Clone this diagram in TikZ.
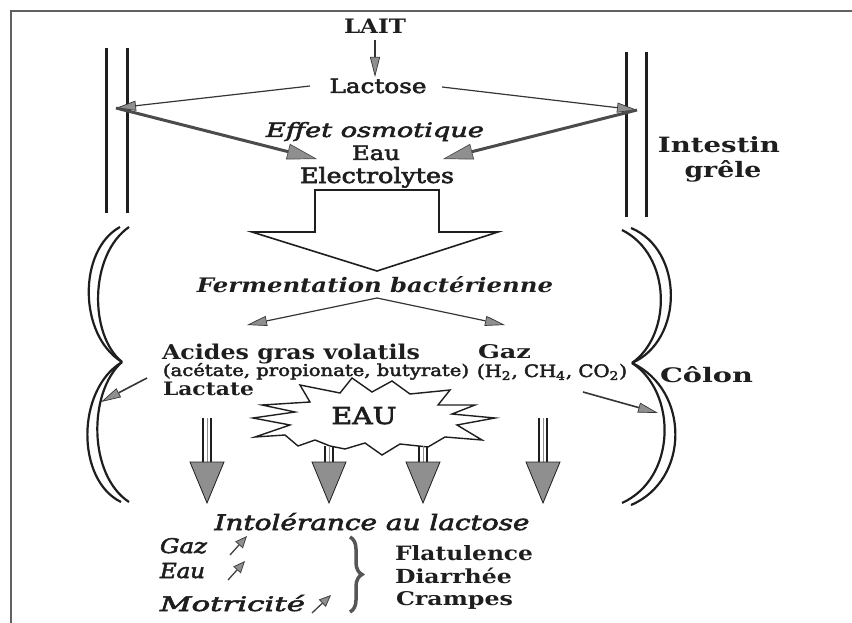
\documentclass[tikz,border=0pt]{standalone}
\usepackage{fontspec}
\setmainfont{DejaVu Serif}
\newfontfamily\medf{DejaVu Serif}[FakeBold=2.5]
\usepackage{graphicx}
\usetikzlibrary{arrows.meta,decorations.pathreplacing}
\definecolor{ink}{HTML}{1E1E1E}
\definecolor{tipg}{HTML}{8F8F8F}
\newcommand\fitt[3]{\resizebox{#1pt}{#2pt}{#3}}
\begin{document}
\begin{tikzpicture}[x=1pt,y=-1pt,
  txt/.style={inner sep=0pt,outer sep=0pt,text=ink},
  wall/.style={draw=ink,line width=3pt},
  colonline/.style={draw=ink,line width=2.2pt},
  thinarr/.style={draw=ink!90,line width=1.2pt,-{Triangle[length=20pt,width=10pt,fill=tipg,line width=0.7pt]}},
  thickarr/.style={draw=ink!80,line width=3pt,-{Triangle[length=30pt,width=16pt,fill=tipg,line width=0.7pt]}},
  smallarr/.style={draw=ink!85,line width=1.3pt,-{Triangle[length=12pt,width=10pt,fill=tipg,line width=0.8pt]}},
  blockarrow/.style={draw=ink,line width=1.6pt,fill=white},
  starline/.style={draw=ink,line width=1.4pt,fill=white},
  shaftl/.style={draw=ink,line width=1.4pt},
  headf/.style={draw=ink,line width=0.8pt,fill=tipg}]
\useasboundingbox (0,0) rectangle (852,623);
% frame
\draw[ink!70,line width=1.2pt] (11,623) -- (11,11) -- (852,11);

% small intestine walls
\draw[wall] (106,48) -- (106,213);
\draw[wall] (127,48) -- (127,213);
\draw[wall] (626,52) -- (626,217);
\draw[wall] (646,52) -- (646,217);

% colon walls (left)
\draw[colonline] (120,227) .. controls (78,250) and (78,335) .. (122,362);
\draw[colonline] (129,227) .. controls (89,255) and (89,335) .. (122,362);
\draw[colonline] (122,362) .. controls (76,390) and (76,480) .. (121,502);
\draw[colonline] (122,362) .. controls (88,392) and (88,475) .. (129,502);
% colon walls (right)
\draw[colonline] (631,228) .. controls (684,250) and (684,340) .. (632,363);
\draw[colonline] (622,230) .. controls (672,255) and (672,335) .. (632,363);
\draw[colonline] (632,363) .. controls (690,390) and (690,480) .. (631,505);
\draw[colonline] (632,363) .. controls (677,392) and (677,478) .. (622,503);

% texts
\node[txt,anchor=base] (lait) at (375,34) {\fitt{62}{14.5}{\bfseries LAIT}};
\node[txt,anchor=base] (lactose) at (378,93) {\fitt{97}{14.5}{\medf Lactose}};
\node[txt,anchor=base] (effet) at (375,137) {\fitt{218}{15}{\medf\itshape Effet osmotique}};
\node[txt,anchor=base] (eau) at (376,160) {\fitt{48}{14.5}{\medf Eau}};
\node[txt,anchor=base] (electro) at (377,183) {\fitt{154}{16}{\medf Electrolytes}};
\node[txt,anchor=base] (intestin) at (719,153) {\fitt{122}{16}{\bfseries Intestin}};
\node[txt,anchor=base] (grele) at (723,178) {\fitt{77}{17}{\bfseries grêle}};
\node[txt,anchor=base] (ferm) at (375,292) {\fitt{356}{16}{\bfseries\itshape Fermentation bactérienne}};
\node[txt,anchor=base west] (acides) at (162,359) {\fitt{258}{15.5}{\bfseries Acides gras volatils}};
\node[txt,anchor=base west] (gaz) at (478,358) {\fitt{53}{14}{\bfseries Gaz}};
\node[txt,anchor=base west] (acetate) at (163,376) {\fitt{306}{13}{\medf (acétate, propionate, butyrate)}};
\node[txt,anchor=base west] (gases) at (477,377) {\fitt{150}{13}{\medf (H\textsubscript{2}, CH\textsubscript{4}, CO\textsubscript{2})}};
\node[txt,anchor=base west] (lactate) at (163,395) {\fitt{91}{13.5}{\bfseries Lactate}};
\node[txt,anchor=base west] (colon) at (660,382) {\fitt{93}{16}{\bfseries Côlon}};

% EAU star
\draw[starline] (262,405) -- (310,402) -- (300,385) -- (340,393) -- (352,378) -- (372,392)
  -- (392,381) -- (410,394) -- (450,390) -- (438,405) -- (475,405) -- (452,414)
  -- (495,418) -- (457,425) -- (482,440) -- (445,437) -- (428,447) -- (400,444)
  -- (382,455) -- (365,443) -- (345,449) -- (330,446) -- (315,440) -- (298,446)
  -- (285,435) -- (255,437) -- (290,425) -- (253,418) -- (295,412) -- cycle;
\node[txt,anchor=base] (eaub) at (364,424) {\fitt{65}{17}{\medf EAU}};

\node[txt,anchor=base] (intol) at (372,530) {\fitt{315}{17}{\medf\itshape Intolérance au lactose}};
\node[txt,anchor=base west] (gazi) at (160,553) {\fitt{47}{15}{\medf\itshape Gaz}};
\node[txt,anchor=base west] (eaui) at (160,578) {\fitt{45}{15}{\medf\itshape Eau}};
\node[txt,anchor=base west] (motr) at (160,611) {\fitt{145}{16}{\medf\itshape Motricité}};
\node[txt,anchor=base west] (flat) at (395,560) {\fitt{138}{15}{\bfseries Flatulence}};
\node[txt,anchor=base west] (diar) at (395,583) {\fitt{117}{15.5}{\bfseries Diarrhée}};
\node[txt,anchor=base west] (cramp) at (396,605) {\fitt{117}{14}{\bfseries Crampes}};

% coordinates
\coordinate (laitb) at (375,40);
\coordinate (lacttop) at (375,77);
\coordinate (LP) at (116,108);
\coordinate (RP) at (637,110);
\coordinate (lacL) at (310,86);
\coordinate (lacR) at (442,87);
\coordinate (E1) at (317,159);
\coordinate (E2) at (443,159);
\coordinate (F0) at (377,298);
\coordinate (F1) at (247,325);
\coordinate (F2) at (505,325);
\coordinate (AL0) at (147,378);
\coordinate (AL1) at (101,402);
\coordinate (AR0) at (583,392);
\coordinate (AR1) at (658,413);

% connectors
\draw[thinarr] (laitb) -- (lacttop);
\draw[thinarr] (lacL) -- (LP);
\draw[thinarr] (lacR) -- (RP);
\draw[thickarr] (LP) -- (E1);
\draw[thickarr] (RP) -- (E2);
\draw[thinarr] (F0) -- (F1);
\draw[thinarr] (F0) -- (F2);
\draw[thinarr,line width=1.6pt] (AL0) -- (AL1);
\draw[thinarr,line width=1.6pt] (AR0) -- (AR1);

% big block arrow
\draw[blockarrow] (315,190) -- (439,190) -- (439,232) -- (498,232) -- (377,271)
  -- (252,232) -- (315,232) -- cycle;

% downward double-shaft arrows
\foreach \x/\t in {207/418, 329/446, 423/446, 543/418} {
  \draw[shaftl] ({\x-4},\t) -- ({\x-4},462);
  \draw[shaftl] ({\x+4},\t) -- ({\x+4},462);
  \draw[ink!50,line width=1pt] (\x,\t) -- (\x,462);
  \filldraw[headf] ({\x-17},462) -- ({\x+17},462) -- (\x,503) -- cycle;
}

% small up arrows
\draw[smallarr] (230,555) -- (247,536);
\draw[smallarr] (228,580) -- (245,561);
\draw[smallarr] (312,613) -- (331,595);

% brace
\draw[decorate,decoration={brace,amplitude=12pt},line width=3.5pt,draw=ink!75] (350,537) -- (350,612);
\end{tikzpicture}
\end{document}
